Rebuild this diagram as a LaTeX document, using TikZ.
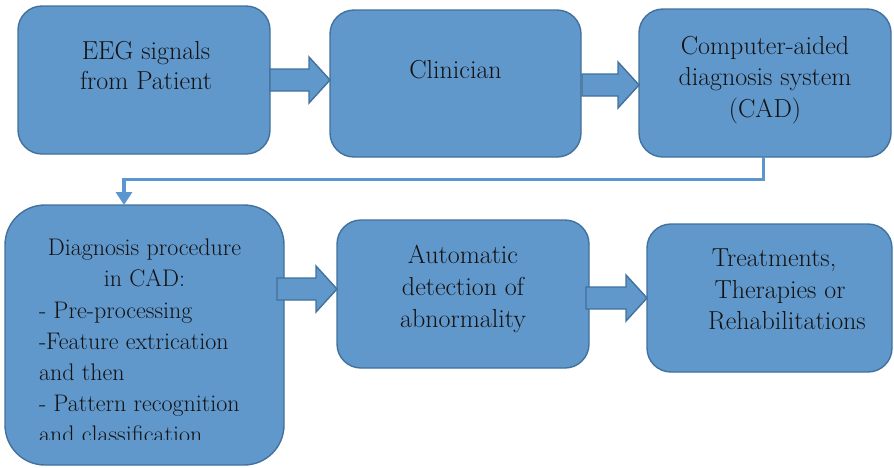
\documentclass[tikz,border=0pt]{standalone}
\usetikzlibrary{arrows.meta,calc}

\definecolor{boxfill}{RGB}{97,152,204}
\definecolor{boxline}{RGB}{65,113,156}
\definecolor{linkblue}{RGB}{91,150,207}
\definecolor{ink}{RGB}{18,18,18}

\tikzset{
  box/.style={draw=boxline, line width=1.4pt, fill=boxfill, rounded corners=#1,
              inner sep=0pt, outer sep=0pt},
  box/.default=24pt,
  fatarrowstyle/.style={draw=boxline, line width=1.4pt, fill=boxfill, line join=miter},
  link/.style={draw=linkblue, line width=3.5pt,
               -{Triangle[width=16pt,length=13pt]}},
  boxtext/.style={inner sep=0pt, outer sep=0pt, text=ink, anchor=north},
}

% block arrow: #1 source node, #2 target node, #3 height of the axis, #4 how far the shaft starts inside the source
\newcommand\fatarrow[4]{%
  \draw[fatarrowstyle] let \p1=(#1.east), \p2=(#2.west), \p3=(0,#3) in
    (\x1-#4,\y3-11pt) -- (\x2-21pt,\y3-11pt) -- (\x2-21pt,\y3-23pt) --
    (\x2,\y3) -- (\x2-21pt,\y3+23pt) -- (\x2-21pt,\y3+11pt) --
    (\x1-#4,\y3+11pt) -- cycle;}

\begin{document}
\begin{tikzpicture}[x=1pt, y=-1pt]
  \useasboundingbox (0,0) rectangle (894,467);

  % process boxes
  \node[box, minimum width=252pt, minimum height=148pt] (eeg)   at (144,80)    {};
  \node[box, minimum width=251pt, minimum height=147pt] (clin)  at (455.5,83.5) {};
  \node[box, minimum width=252pt, minimum height=148pt] (cad)   at (765,83)    {};
  \node[box=40pt, minimum width=279pt, minimum height=260pt] (diag) at (144.5,335) {};
  \node[box, minimum width=252pt, minimum height=148pt] (auto)  at (463,294)   {};
  \node[box, minimum width=245pt, minimum height=148pt] (treat) at (769.5,298) {};

  % block arrows between the boxes
  \fatarrow{eeg}{clin}{80}{0pt}
  \fatarrow{clin}{cad}{85}{-1pt}
  \fatarrow{diag}{auto}{289}{7pt}
  \fatarrow{auto}{treat}{298}{3pt}

  % link from the CAD box down to the diagnosis procedure
  \coordinate (elbow) at (124,179.5);
  \draw[link] ([xshift=-1.5pt]cad.south) |- (elbow) -- (elbow |- diag.north);

  % box texts
  \node[boxtext, align=center, font=\fontsize{26}{30}\selectfont] (eegtext) at (146,38)
    {\strut EEG signals\\ from Patient};
  \node[boxtext, align=center, font=\fontsize{26}{30}\selectfont] (clintext) at (455.5,57)
    {\strut Clinician};
  \node[boxtext, align=center, font=\fontsize{26}{31.5}\selectfont] (cadtext) at (765,32)
    {\strut Computer-aided\\ diagnosis system\\ (CAD)};
  \node[boxtext, align=center, font=\fontsize{26}{32}\selectfont] (autotext) at (463,240.6)
    {\strut Automatic\\ detection of\\ abnormality};
  \node[boxtext, align=center, font=\fontsize{26}{31.5}\selectfont] (treattext) at (780,244.9)
    {\strut Treatments,\hspace*{12pt}\\ Therapies or\hspace*{12pt}\\ \hspace*{14pt}Rehabilitations};

  \node[boxtext, align=center, font=\fontsize{24}{31}\selectfont] (diaghead) at (144.5,233.3)
    {\strut Diagnosis procedure\\ in CAD:};
  % the last step line runs past the bottom of its text area
  \begin{scope}
    \clip (0,200) rectangle (894,439.5);
    \node[boxtext, anchor=north west, align=left, font=\fontsize{24}{31}\selectfont] (diagsteps) at (39,296.3)
      {\strut - Pre-processing\\ -Feature extrication\\ and then\\ - Pattern recognition\\ and classification};
  \end{scope}
\end{tikzpicture}
\end{document}
